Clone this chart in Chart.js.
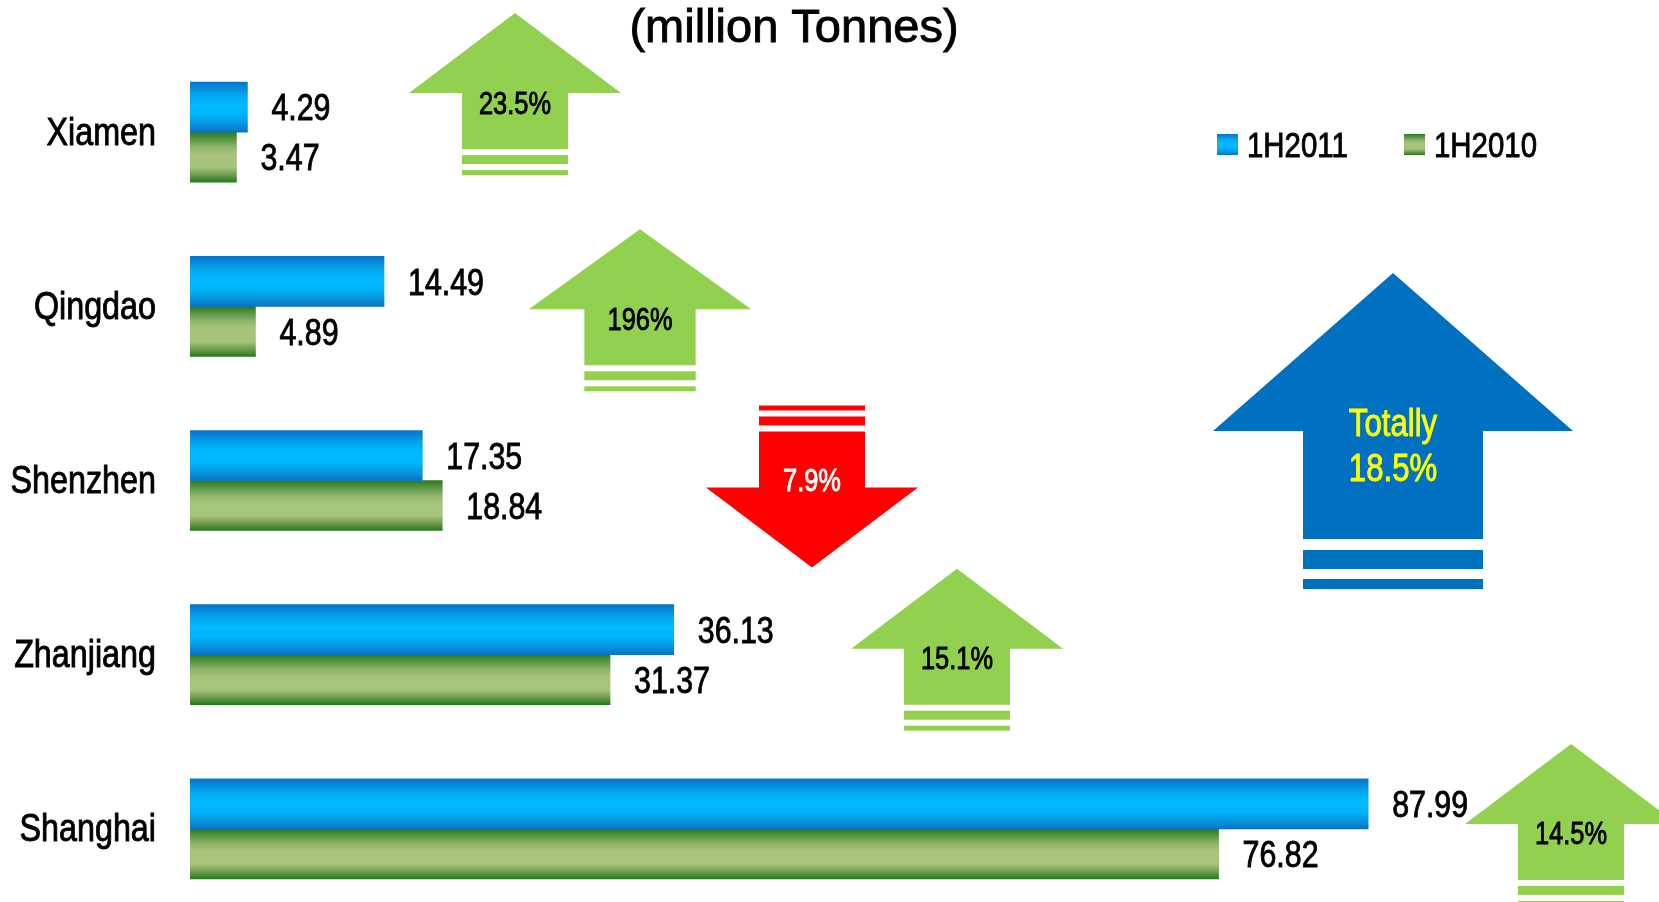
<!DOCTYPE html>
<html>
<head>
<meta charset="utf-8">
<script src="https://cdn.jsdelivr.net/npm/chart.js@4"></script>
<style>
  html, body { margin: 0; padding: 0; background: #fff; overflow: hidden; }
  #wrap { position: absolute; left: 0; top: 0; width: 1659px; height: 960px; }
</style>
</head>
<body>
<div id="wrap"><canvas id="ports"></canvas></div>
<script>
// ---- data ----
const ports = ['Xiamen', 'Qingdao', 'Shenzhen', 'Zhanjiang', 'Shanghai'];
const h2011 = [4.29, 14.49, 17.35, 36.13, 87.99];
const h2010 = [3.47, 4.89, 18.84, 31.37, 76.82];
const growth = ['23.5%', '196%', '7.9%', '15.1%', '14.5%'];
const growthDir = ['up', 'up', 'down', 'up', 'up'];
const totalLabel = ['Totally', '18.5%'];
const seriesNames = ['1H2011', '1H2010'];

// ---- look ----
const FONT = "'Liberation Sans', Arial, sans-serif";
const NARROW = 0.82; // horizontal squeeze to mimic a narrow face
const BAR = 50;
const blueStops = [[0, '#0872c8'], [0.25, '#03a6ee'], [0.45, '#00baff'], [0.65, '#00b5fc'], [0.85, '#0794de'], [1, '#0a72c6']];
const greenStops = [[0, '#2b7a22'], [0.3, '#8fb56a'], [0.45, '#a6c47b'], [0.7, '#a6c47b'], [0.86, '#6f9a4e'], [1, '#237a1d']];

// arrow placement (pixel x of arrow centre, head-base offset from category centre, width factor)
const arrowX = [515, 640, 812, 957, 1571];
const arrowShift = [-39, 3, 7, -6, -5];
const arrowWide = [1, 1.05, 1, 1, 1];

function barGradient(stops) {
    return function(c) {
        const chart = c.chart;
        if (!chart.chartArea || c.dataIndex === undefined) return stops[2][1];
        const yc = chart.scales.y.getPixelForValue(c.dataIndex);
        const top = c.datasetIndex === 0 ? yc - BAR : yc;
        const g = chart.ctx.createLinearGradient(0, top, 0, top + BAR);
        stops.forEach(s => g.addColorStop(s[0], s[1]));
        return g;
    };
}

function narrowText(ctx, text, x, y, align, size, sx) {
    ctx.save();
    ctx.translate(x, y);
    ctx.scale(sx, 1);
    ctx.font = size + 'px ' + FONT;
    ctx.textAlign = align;
    ctx.textBaseline = 'middle';
    ctx.strokeStyle = ctx.fillStyle;
    ctx.lineWidth = 0.9;
    ctx.fillText(text, 0, 0);
    ctx.strokeText(text, 0, 0);
    ctx.restore();
}

// generic block arrow: dir 1 = up, -1 = down
function blockArrow(ctx, cx, base, dir, headH, headHalf, bodyHalf, bodyH, stripes, color) {
    ctx.fillStyle = color;
    ctx.beginPath();
    ctx.moveTo(cx, base - dir * headH);
    ctx.lineTo(cx + headHalf, base);
    ctx.lineTo(cx + bodyHalf, base);
    ctx.lineTo(cx + bodyHalf, base + dir * bodyH);
    ctx.lineTo(cx - bodyHalf, base + dir * bodyH);
    ctx.lineTo(cx - bodyHalf, base);
    ctx.lineTo(cx - headHalf, base);
    ctx.closePath();
    ctx.fill();
    stripes.forEach(s => {
        const y1 = base + dir * s[0], y2 = base + dir * s[1];
        ctx.fillRect(cx - bodyHalf, Math.min(y1, y2), bodyHalf * 2, Math.abs(y2 - y1));
    });
}

const decor = {
    id: 'decor',
    afterDatasetsDraw(chart) {
        const ctx = chart.ctx;
        const y = chart.scales.y;
        ctx.save();

        // title
        ctx.fillStyle = '#000';
        narrowText(ctx, '(million Tonnes)', 794, 29, 'center', 47, 1.0);

        // port names (category axis labels)
        ports.forEach((p, i) => {
            narrowText(ctx, p, 156, y.getPixelForValue(i) + 2, 'right', 38, 0.85);
        });

        // value labels
        chart.data.datasets.forEach((ds, di) => {
            chart.getDatasetMeta(di).data.forEach((el, i) => {
                narrowText(ctx, ds.data[i].toFixed(2), el.x + 24, el.y + 3, 'left', 37, NARROW);
            });
        });

        // legend
        [[1217, blueStops], [1404, greenStops]].forEach((l, i) => {
            const g = ctx.createLinearGradient(0, 134, 0, 155);
            l[1].forEach(s => g.addColorStop(s[0], s[1]));
            ctx.fillStyle = g;
            ctx.fillRect(l[0], 134, 21, 21);
            ctx.fillStyle = '#000';
            narrowText(ctx, seriesNames[i], l[0] + 30, 147, 'left', 35, 0.84);
        });

        // growth arrows per port
        ports.forEach((p, i) => {
            const base = y.getPixelForValue(i) + arrowShift[i];
            const up = growthDir[i] === 'up';
            const w = arrowWide[i];
            blockArrow(ctx, arrowX[i], base, up ? 1 : -1, 80, 106 * w, 53 * w, 56,
                [[62, 71], [77, 82]], up ? '#92d050' : '#ff0000');
            ctx.fillStyle = up ? '#000' : '#fff';
            narrowText(ctx, growth[i], arrowX[i], up ? base + 12 : base - 5, 'center', 31, NARROW);
        });

        // total arrow
        blockArrow(ctx, 1393, 431, 1, 158, 180, 90, 108, [[119, 138], [148, 158]], '#0070c0');
        ctx.fillStyle = '#ffff00';
        narrowText(ctx, totalLabel[0], 1393, 426, 'center', 38, NARROW);
        narrowText(ctx, totalLabel[1], 1393, 471, 'center', 38, NARROW);

        ctx.restore();
    }
};

new Chart(document.getElementById('ports'), {
    type: 'bar',
    data: {
        labels: ports,
        datasets: [{
            label: seriesNames[0],
            data: h2011,
            backgroundColor: barGradient(blueStops),
            borderWidth: 0,
            barThickness: BAR
        }, {
            label: seriesNames[1],
            data: h2010,
            backgroundColor: barGradient(greenStops),
            borderWidth: 0,
            barThickness: BAR
        }]
    },
    options: {
        indexAxis: 'y',
        responsive: true,
        maintainAspectRatio: false,
        animation: false,
        layout: { padding: { top: 45, bottom: 44, right: 130, left: 0 } },
        plugins: {
            legend: { display: false },
            tooltip: { enabled: false }
        },
        scales: {
            x: { display: false, min: 0, max: 100 },
            y: {
                grid: { display: false },
                border: { display: false },
                ticks: { display: false },
                afterFit: function(scale) {
                    scale.width = 190;
                    scale.paddingTop = 0;
                    scale.paddingBottom = 0;
                }
            }
        }
    },
    plugins: [decor]
});
</script>
</body>
</html>
